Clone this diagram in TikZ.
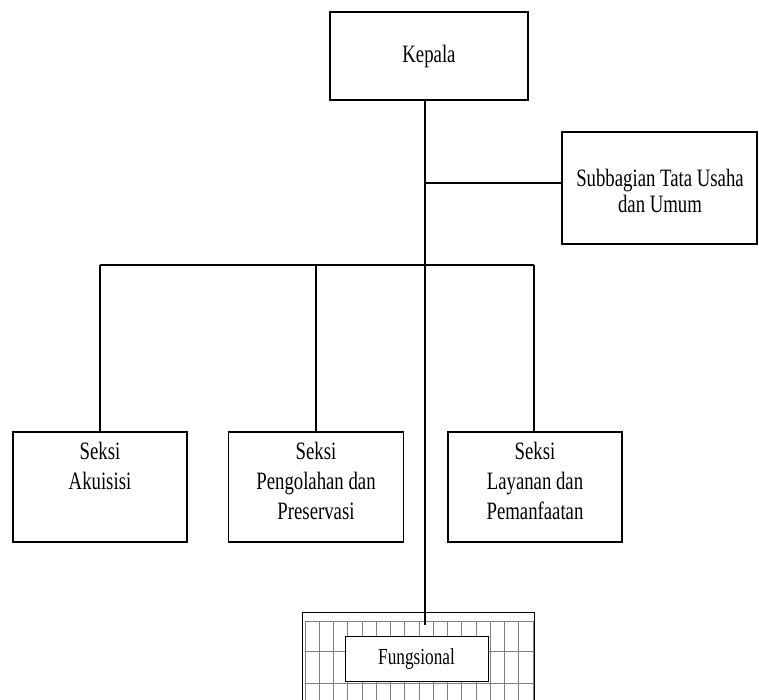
\documentclass[tikz,border=0pt]{standalone}
\usepackage{fontspec}
\setmainfont{Liberation Serif}[FakeStretch=0.75]
\begin{document}
\begin{tikzpicture}[x=1pt,y=-1pt,
  unit/.style={draw=black,line width=1.4pt,rectangle,inner sep=0pt},
  lbl/.style={inner sep=0pt,align=center,font=\fontsize{25}{30}\selectfont},
  link/.style={draw=black,line width=1.1pt},
  gridline/.style={draw=black!50,line width=0.9pt}]
\useasboundingbox (0,0) rectangle (759,700);
\fill[white] (0,0) rectangle (759,700);

% head of office
\node[unit,minimum width=198pt,minimum height=88pt] (kepala) at (429,56) {};
\node[lbl,anchor=base] (tkepala) at (429,63) {Kepala};

% administration subdivision
\node[unit,minimum width=195pt,minimum height=112pt] (sub) at (659.5,188) {};
\node[lbl,anchor=center,font=\fontsize{25}{26}\selectfont] (tsub) at (660,191) {Subbagian Tata Usaha\\dan Umum};

% sections
\node[unit,minimum width=174pt,minimum height=110pt] (aku) at (100,487) {};
\node[unit,minimum width=175pt,minimum height=110pt] (pen) at (316,487) {};
\node[unit,minimum width=174pt,minimum height=110pt] (lay) at (535,487) {};
\node[lbl,anchor=north] (taku) at (100,442) {Seksi\\Akuisisi};
\node[lbl,anchor=north] (tpen) at (316,442) {Seksi\\Pengolahan dan\\Preservasi};
\node[lbl,anchor=north] (tlay) at (535,442) {Seksi\\Layanan dan\\Pemanfaatan};

% functional group: hatched block
\begin{scope}
\clip (0,0) rectangle (759,700);
\fill[white] (302,612) rectangle (534,710);
\foreach \k in {0,...,16}
  \draw[gridline] ({305+14.25*\k},621) -- ({305+14.25*\k},710);
\foreach \yy in {621,651,683}
  \draw[gridline] (305,\yy) -- (534,\yy);
\draw[black,line width=1pt] (302,710) -- (302,612) -- (534,612) -- (534,710);
\end{scope}
\node[draw=black,line width=0.9pt,fill=white,minimum width=143pt,minimum height=45pt,inner sep=0pt] (fung) at (416.5,658.5) {};
\node[lbl] (tfung) at (416.5,659) {\fontsize{23}{26}\selectfont Fungsional};

% connectors
\coordinate (fjoin) at (425,625);
\coordinate (subjoin) at (425,183);
\coordinate (busL) at (100,265);
\coordinate (busR) at (534,265);
\draw[link] (kepala.south -| fjoin) -- (fjoin);
\draw[link] (subjoin) -- (subjoin -| sub.west);
\draw[link] (busL) -- (busR);
\draw[link] (busL) -- (aku.north);
\draw[link] (busL -| pen.north) -- (pen.north);
\draw[link] (busR) -- (busR |- lay.north);
\end{tikzpicture}
\end{document}
